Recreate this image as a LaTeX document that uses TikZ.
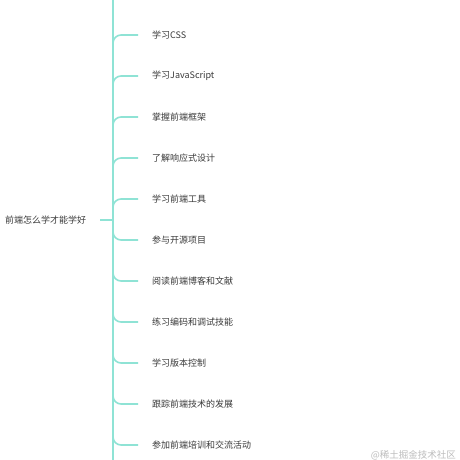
\documentclass[tikz,border=0pt]{standalone}
\usepackage{fontspec}
\setmainfont{Noto Sans CJK SC}
\definecolor{branchc}{HTML}{8FE3D5}
\definecolor{textc}{HTML}{3A3A3A}
\definecolor{wmc}{HTML}{BDBDBD}
\tikzset{
  branch/.style={draw=branchc, line width=1.6pt, rounded corners=8pt},
  leaf/.style={inner sep=0pt, anchor=west, text=textc, font=\fontsize{9}{11}\selectfont},
  rootnode/.style={inner sep=0pt, anchor=west, text=textc, font=\fontsize{9}{11}\selectfont},
  wmark/.style={inner sep=0pt, anchor=east, text=wmc, font=\fontsize{9.5}{11}\selectfont}
}
\begin{document}
\begin{tikzpicture}[x=1pt,y=-1pt]
\fill[white] (0,0) rectangle (460,460);
\useasboundingbox (0,0) rectangle (460,460);
\coordinate (top) at (113,-2);
\coordinate (bot) at (113,462);
\draw[branch] (top) -- (bot);
\node[rootnode] (root) at (5,220) {前端怎么学才能学好};
\coordinate (rs) at (100,220);
\coordinate (rj) at (113,220);
\draw[branch] (rs) -- (rj);
\foreach \i/\t in {0/学习CSS,1/学习JavaScript,2/掌握前端框架,3/了解响应式设计,4/学习前端工具,5/参与开源项目,6/阅读前端博客和文献,7/练习编码和调试技能,8/学习版本控制,9/跟踪前端技术的发展,10/参加前端培训和交流活动}{
  \pgfmathsetmacro{\yy}{35+41*\i}
  \node[leaf] (b\i) at (152,\yy) {\t};
  \coordinate (e\i) at (138,\yy);
  \ifnum\i<5
    \draw[branch] (113,\yy+14) |- (e\i);
  \else
    \draw[branch] (113,\yy-14) |- (e\i);
  \fi
}
\node[wmark] (wm) at (456,455) {@稀土掘金技术社区};
\end{tikzpicture}
\end{document}
